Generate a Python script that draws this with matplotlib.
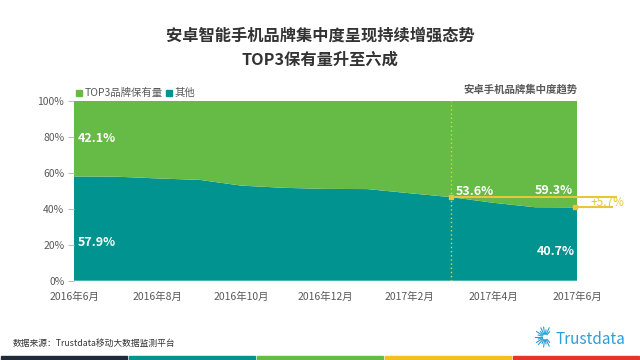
import matplotlib
matplotlib.use("Agg")
import matplotlib.pyplot as plt
import numpy as np
from matplotlib.patches import Rectangle
from matplotlib.lines import Line2D

plt.rcParams['font.family'] = ['Noto Sans CJK SC', 'DejaVu Sans']

months = ["2016年6月", "2016年7月", "2016年8月", "2016年9月", "2016年10月", "2016年11月",
          "2016年12月", "2017年1月", "2017年2月", "2017年3月", "2017年4月", "2017年5月", "2017年6月"]
others = [57.9, 57.8, 56.8, 56.0, 52.8, 51.6, 51.0, 50.9, 48.6, 46.4, 43.3, 40.8, 40.7]
top3 = [round(100 - v, 1) for v in others]
tick_labels = ["2016年6月", "2016年8月", "2016年10月", "2016年12月", "2017年2月", "2017年4月", "2017年6月"]
series_names = ["TOP3品牌保有量", "其他"]

GREEN = "#66BA46"
TEAL = "#00938F"
YELLOW = "#E9C53A"

fig = plt.figure(figsize=(6.4, 3.6), dpi=100)
ax = fig.add_axes([74/640, 1-280.7/360, (577-74)/640, 180/360])

x = np.arange(len(months))
ax.stackplot(x, others, top3, colors=[TEAL, GREEN], linewidth=0)
ax.set_xlim(0, len(months)-1)
ax.set_ylim(0, 100)

ax.set_xticks(x[::2])
ax.set_xticklabels(tick_labels, fontsize=7.5, color="#595959")
ax.tick_params(axis='x', length=0, pad=8)
ax.set_yticks(np.arange(0, 101, 20))
ax.set_yticklabels([f"{v}%" for v in range(0, 101, 20)], fontsize=7.5, color="#595959")
ax.tick_params(axis='y', length=4, color="#BFBFBF", pad=3)
for s in ax.spines.values():
    s.set_visible(False)

# data labels
ax.text(0.1, 79, f"{top3[0]}%", color="white", fontsize=9, fontweight="bold", va="center", ha="left")
ax.text(0.1, 21, f"{others[0]}%", color="white", fontsize=9, fontweight="bold", va="center", ha="left")
ax.text(9.1, 49.5, f"{top3[9]}%", color="white", fontsize=9, fontweight="bold", va="center", ha="left")
ax.text(11.9, 50, f"{top3[12]}%", color="white", fontsize=9, fontweight="bold", va="center", ha="right")
ax.text(11.95, 16, f"{others[12]}%", color="white", fontsize=9, fontweight="bold", va="center", ha="right")

# annotation: dotted line and difference bracket
ax.axvline(9, color="#E3D23A", lw=1.0, ls=(0, (1, 2)))
x_end1 = 12 + (617-577)/41.9
x_end2 = 12 + (613-577)/41.9
ax.plot([9, x_end1], [others[9], others[9]], color=YELLOW, lw=1.5, clip_on=False, solid_capstyle='butt')
ax.plot([11.95, x_end2], [others[12], others[12]], color=YELLOW, lw=1.5, clip_on=False, solid_capstyle='butt')
ax.plot([9], [others[9]], marker='s', ms=2.5, color=YELLOW)
ax.plot([11.95], [others[12]], marker='s', ms=2.5, color=YELLOW, clip_on=False)
diff = round(top3[12] - top3[9], 1)
ax.text(12 + (607-577)/41.9, (others[9]+others[12])/2, f"+{diff}%", color=YELLOW, fontsize=8.5,
        va="center", ha="center", clip_on=False)

# titles
fig.text(0.5, 1-36/360, "安卓智能手机品牌集中度呈现持续增强态势", ha="center", va="center",
         fontsize=11.7, fontweight="bold", color="#333333")
fig.text(0.5, 1-60/360, "TOP3保有量升至六成", ha="center", va="center",
         fontsize=11.7, fontweight="bold", color="#333333")
fig.text(577/640, 1-89/360, "安卓手机品牌集中度趋势", ha="right", va="center",
         fontsize=7.5, fontweight="bold", color="#595959")

# legend
lx, ly = 76/640, 1-93/360
fig.patches.append(Rectangle((lx, ly-3/360), 6/640, 6/360, transform=fig.transFigure, color=GREEN))
fig.text(lx+9/640, ly, series_names[0], fontsize=7.5, color="#595959", va="center")
lx2 = 166/640
fig.patches.append(Rectangle((lx2, ly-3/360), 6/640, 6/360, transform=fig.transFigure, color=TEAL))
fig.text(lx2+9/640, ly, series_names[1], fontsize=7.5, color="#595959", va="center")

# source
fig.text(13/640, 1-343/360, "数据来源：Trustdata移动大数据监测平台", fontsize=6.3, color="#333333", va="center")

# logo
fig.text(556/640, 1-339/360, "Trustdata", fontsize=11, color="#2B9FD8", va="center", ha="left")
cx, cy = 545/640, 1-337/360
for ang in np.linspace(0, 2*np.pi, 22, endpoint=False):
    if np.cos(ang) > 0.75:
        continue
    r1, r2 = 3, 10 if (int(ang*10) % 2) else 7
    fig.add_artist(Line2D([cx + r1*np.cos(ang)/640, cx + r2*np.cos(ang)/640],
                          [cy + r1*np.sin(ang)/360, cy + r2*np.sin(ang)/360],
                          transform=fig.transFigure, color="#2B9FD8", lw=0.8))

# bottom color bars
bar_colors = ["#1F2A3A", "#00938F", "#66BA46", "#F2C21B", "#E8332A"]
w = 640/5
for i, c in enumerate(bar_colors):
    fig.patches.append(Rectangle(((i*w+1)/640, 0), (w-2)/640, 4/360, transform=fig.transFigure, color=c))

fig.savefig("out.png", dpi=100)
